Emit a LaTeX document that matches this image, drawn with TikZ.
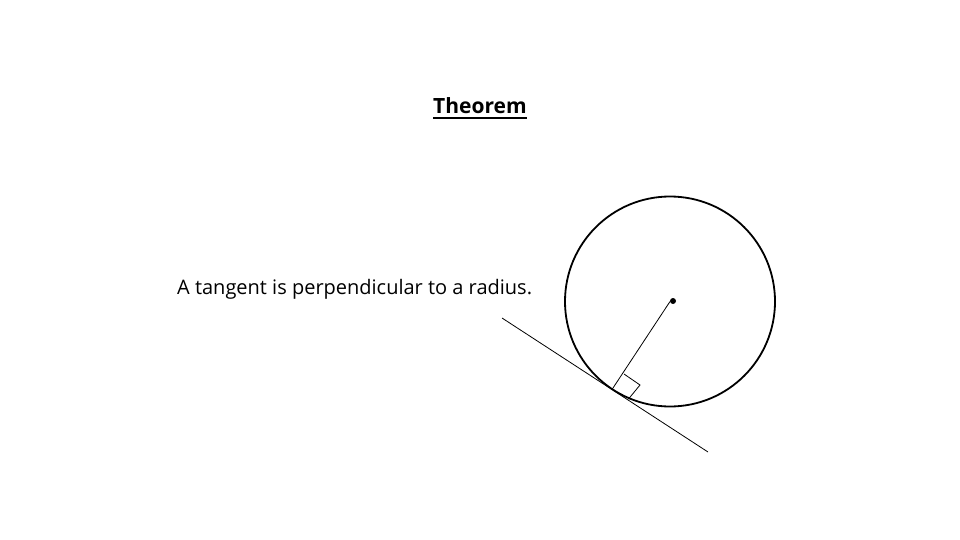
\documentclass[tikz,border=0pt]{standalone}
\usepackage{fontspec}
\setmainfont{Open Sans}
\begin{document}
\begin{tikzpicture}[x=1pt,y=-1pt,
  thin line/.style={line width=0.8pt},
  thick line/.style={line width=1.8pt},
  label text/.style={inner sep=0pt, font=\fontsize{20}{24}\selectfont}]
\useasboundingbox (0,0) rectangle (960,540);
\node[inner sep=0pt, anchor=base, font=\fontsize{21}{24}\selectfont\bfseries] (title) at (480,114) {Theorem};
\draw[line width=1.6pt] ([yshift=-4pt]title.base west) -- ([yshift=-4pt]title.base east);
\node[label text, anchor=base west] (stmt) at (177,294) {A tangent is perpendicular to a radius.};
\coordinate (O) at (670,301.5);
\coordinate (P) at (612,389.5);
\coordinate (T1) at (502,318);
\coordinate (T2) at (708,452);
\coordinate (Q1) at (624,374);
\coordinate (Q2) at (640,385);
\coordinate (Q3) at (628.5,399);
\draw[thick line] (O) circle (105);
\draw[thin line] (T1) -- (T2);
\draw[thin line] (O) -- (P);
\draw[thin line] (Q1) -- (Q2) -- (Q3);
\fill (673,301) circle (3);
\end{tikzpicture}
\end{document}
